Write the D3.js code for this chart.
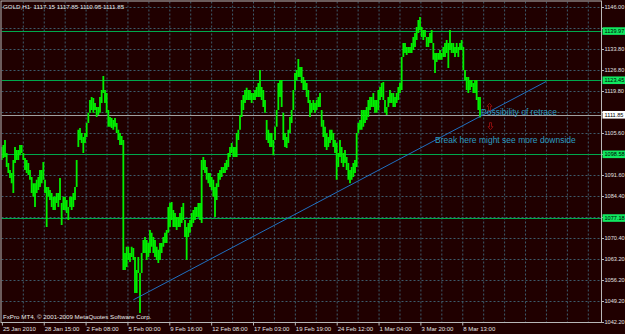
<!DOCTYPE html>
<html><head><meta charset="utf-8">
<script src="https://cdn.jsdelivr.net/npm/d3@7"></script>
<style>html,body{margin:0;padding:0;background:#200000;overflow:hidden}svg{display:block}</style>
</head><body><svg id="c" width="625" height="334"></svg>
<script>
const titleText = "GOLD,H1  1117.15 1117.85 1110.95 1111.85";
const footerText = "FxPro MT4, \u00a9 2001-2009 MetaQuotes Software Corp.";

// hourly bars, grouped into columns (high / low per column)
const highs = [
1101.0,1101.7,1103.4,1099.0,1095.7,1093.3,1092.3,1096.7,1101.0,1100.0,
1100.0,1101.7,1101.7,1099.0,1097.3,1096.7,1095.7,1093.3,1091.0,1088.9,
1088.9,1090.0,1091.0,1093.3,1093.3,1096.0,1090.0,1087.6,1087.6,1086.6,
1085.6,1084.3,1084.3,1085.6,1085.6,1090.6,1082.2,1084.3,1084.3,1083.2,
1080.9,1084.3,1084.3,1085.6,1087.6,1096.7,1106.8,1107.4,1105.7,1104.4,
1105.7,1109.1,1112.5,1116.8,1117.8,1117.5,1115.8,1114.5,1114.5,1117.8,
1120.2,1124.9,1120.2,1119.2,1113.5,1111.1,1110.8,1110.1,1110.8,1109.1,
1106.8,1105.7,1104.7,1103.4,1065.4,1067.5,1067.5,1065.4,1067.5,1067.1,
1064.1,1059.7,1064.1,1058.7,1065.4,1069.8,1070.8,1069.8,1068.8,1073.2,
1072.2,1070.8,1069.8,1067.5,1066.5,1068.8,1068.8,1070.8,1072.2,1073.2,
1080.9,1082.2,1082.6,1079.9,1078.9,1077.5,1077.5,1078.9,1080.9,1082.2,
1076.5,1074.2,1075.5,1076.5,1078.9,1079.9,1080.9,1080.9,1082.2,1082.2,
1096.7,1097.7,1096.7,1094.3,1092.3,1092.3,1091.0,1090.0,1087.6,1088.9,
1092.3,1093.3,1094.3,1094.3,1095.7,1096.7,1099.0,1101.0,1102.4,1101.0,
1101.0,1105.7,1106.8,1111.8,1116.8,1118.5,1120.2,1120.9,1120.2,1120.2,
1119.2,1119.2,1120.2,1121.2,1122.5,1126.9,1121.2,1120.2,1116.8,1110.1,
1106.8,1105.7,1105.7,1103.4,1107.8,1113.5,1122.5,1123.5,1123.5,1112.5,
1105.7,1104.4,1106.8,1111.1,1113.5,1120.2,1125.9,1126.9,1130.6,1127.9,
1127.9,1124.5,1123.5,1122.5,1120.2,1116.8,1115.8,1116.8,1115.8,1116.8,
1117.8,1119.2,1113.5,1110.1,1107.8,1105.7,1104.4,1106.8,1106.8,1105.7,
1103.4,1102.4,1099.0,1103.4,1101.0,1099.0,1100.0,1097.7,1095.7,1093.3,
1094.3,1095.7,1096.7,1105.7,1109.1,1110.1,1113.5,1113.5,1113.5,1114.5,
1116.8,1117.8,1117.8,1119.2,1116.8,1116.8,1120.2,1121.2,1122.5,1122.9,
1116.8,1114.5,1117.8,1120.2,1119.2,1119.2,1117.8,1119.2,1121.2,1122.5,
1131.3,1136.0,1136.0,1134.6,1134.6,1134.6,1136.0,1138.0,1139.3,1141.3,
1143.7,1144.7,1141.3,1140.3,1140.3,1138.0,1138.0,1139.3,1140.3,1136.0,
1132.6,1132.6,1132.6,1133.6,1132.6,1134.6,1136.0,1137.0,1136.0,1140.3,
1136.0,1136.0,1134.6,1136.0,1134.6,1136.0,1137.0,1134.6,1126.9,1124.5,
1124.5,1123.5,1123.5,1122.5,1123.5,1123.5,1117.8,1117.85];
const lows = [
1096.7,1097.3,1097.7,1094.3,1092.3,1090.6,1088.9,1085.6,1095.7,1096.7,
1096.7,1098.3,1099.0,1096.7,1093.3,1092.3,1091.6,1090.0,1085.6,1084.3,
1080.9,1085.6,1086.6,1087.6,1088.9,1090.0,1085.6,1074.2,1084.3,1083.2,
1080.9,1079.9,1079.9,1082.2,1080.9,1083.2,1074.8,1079.9,1079.9,1078.9,
1076.5,1080.9,1079.9,1080.9,1083.2,1087.6,1101.0,1103.4,1102.4,1099.0,
1102.4,1104.4,1109.1,1112.5,1113.5,1112.5,1113.5,1111.1,1111.8,1112.5,
1115.8,1119.2,1115.8,1112.5,1107.8,1107.8,1107.4,1106.8,1107.8,1105.7,
1103.4,1101.7,1101.7,1059.7,1059.7,1060.7,1063.1,1062.4,1064.1,1063.1,
1052.0,1052.0,1058.7,1045.3,1058.7,1065.4,1065.4,1063.1,1064.1,1065.4,
1067.5,1065.4,1064.1,1063.1,1062.1,1063.1,1065.4,1067.5,1068.8,1068.8,
1072.2,1074.2,1076.5,1074.2,1074.2,1073.2,1074.2,1074.2,1075.5,1076.5,
1070.8,1063.1,1070.8,1072.2,1074.2,1075.5,1076.5,1077.5,1077.5,1076.5,
1075.5,1093.3,1092.3,1090.0,1088.9,1087.6,1086.6,1084.3,1077.5,1083.2,
1087.6,1090.0,1091.0,1092.3,1092.3,1093.3,1094.3,1097.7,1099.0,1097.7,
1097.7,1097.7,1103.4,1106.8,1111.1,1113.5,1115.8,1116.8,1116.8,1116.8,
1115.8,1116.8,1116.8,1117.8,1117.8,1117.8,1116.8,1114.5,1112.5,1103.4,
1102.4,1101.0,1101.0,1098.3,1103.4,1107.8,1113.5,1117.8,1114.5,1103.4,
1101.0,1100.7,1102.4,1105.7,1109.1,1113.5,1120.2,1123.5,1124.5,1124.5,
1122.5,1120.2,1120.2,1117.8,1115.8,1111.1,1112.5,1113.5,1112.5,1113.5,
1114.5,1114.5,1107.8,1104.4,1101.0,1100.0,1101.0,1102.4,1103.4,1101.0,
1099.0,1090.0,1094.3,1097.7,1095.7,1094.3,1095.7,1093.3,1090.0,1088.9,
1090.0,1091.0,1092.3,1094.3,1105.7,1106.8,1106.8,1107.8,1109.1,1110.1,
1111.1,1113.5,1114.5,1114.5,1112.5,1112.5,1113.5,1116.8,1117.8,1116.8,
1112.5,1111.8,1114.5,1115.8,1115.8,1114.5,1114.5,1115.8,1116.8,1119.2,
1120.2,1131.3,1132.6,1131.9,1132.6,1132.6,1132.6,1133.6,1134.6,1137.0,
1139.3,1140.3,1138.0,1137.0,1138.0,1134.6,1134.6,1136.0,1136.0,1130.3,
1125.9,1129.6,1130.3,1130.3,1130.3,1131.3,1131.3,1132.6,1127.6,1133.6,
1132.6,1132.6,1131.3,1132.6,1131.3,1133.6,1133.6,1126.9,1123.5,1120.2,
1119.2,1120.2,1121.2,1119.2,1119.2,1116.8,1113.5,1110.95];

const xTickLabels = ["25 Jan 2010","28 Jan 15:00","2 Feb 08:00","5 Feb 00:00","9 Feb 16:00","12 Feb 08:00","17 Feb 03:00","19 Feb 19:00","24 Feb 12:00","1 Mar 04:00","3 Mar 20:00","8 Mar 13:00"];
const xTickStart = 1.44, xTickStep = 25.11;   // in column units
const yGridPrices = [1147.95,1140.9,1133.85,1126.85,1119.8,1112.75,1105.7,1098.7,1091.65,1084.6,1077.6,1070.55,1063.5,1056.5,1049.45,1042.4];
const yTickLabels = ["1146.00","1140.80","1133.80","1126.80","1119.80","1112.60","1105.60","1098.60","1091.60","1084.40","1077.40","1070.40","1063.20","1056.20","1049.20","1042.20"];
const levelPrices = [1139.97, 1123.45, 1098.58, 1077.18];
const bidPrice = 1111.85;
const trendCols = [80, 327.6];
const trendPrices = [1049.7, 1123.0];
const noteTexts = ["Possibility of retrace", "Break here might see more downside"];
const noteCols = [288.6, 261];
const notePrices = [1112.7, 1103.4];
const arrowCols = [293.7, 294.3];
const arrowPrices = [1115.7, 1109.2];
const arrowDirs = ["up", "down"];

const svg = d3.select("#c");
const W = 625, H = 334;
const plot = {l: 1.5, t: 1.5, r: 601.5, b: 322.5};
const font = "'Liberation Sans', Arial, sans-serif";

const x = d3.scaleLinear().domain([0, 360]).range([0, 600]);
const y = d3.scaleLinear().domain([1150.4, 1042.4]).range([0, 321.6]);

svg.append("rect").attr("width", W).attr("height", H).attr("fill", "#200000");

svg.append("defs").append("clipPath").attr("id", "pc")
  .append("rect").attr("x", plot.l).attr("y", plot.t).attr("width", plot.r - plot.l).attr("height", plot.b - plot.t);

const g = svg.append("g").attr("clip-path", "url(#pc)");

// grid
const gridCol = "#3d5b6b";
const vCount = d3.range(1, 29);
g.selectAll("line.vg").data(vCount).join("line")
  .attr("x1", j => x(xTickStart + j * xTickStep / 2)).attr("x2", j => x(xTickStart + j * xTickStep / 2))
  .attr("y1", plot.t).attr("y2", plot.b)
  .attr("stroke", gridCol).attr("stroke-width", 1).attr("stroke-dasharray", "2,2");
g.selectAll("line.hg").data(yGridPrices).join("line")
  .attr("x1", plot.l).attr("x2", plot.r)
  .attr("y1", d => Math.round(y(d)) + 0.5).attr("y2", d => Math.round(y(d)) + 0.5)
  .attr("stroke", gridCol).attr("stroke-width", 1).attr("stroke-dasharray", "2,2");

// level lines
g.selectAll("line.lv").data(levelPrices).join("line")
  .attr("x1", plot.l).attr("x2", plot.r)
  .attr("y1", d => Math.round(y(d)) + 0.5).attr("y2", d => Math.round(y(d)) + 0.5)
  .attr("stroke", "#00a84c").attr("stroke-width", 1.1);

// bid line
g.append("line").attr("x1", plot.l).attr("x2", plot.r)
  .attr("y1", Math.round(y(bidPrice)) + 0.5).attr("y2", Math.round(y(bidPrice)) + 0.5)
  .attr("stroke", "#a0a0a0").attr("stroke-width", 1);

// price bars
g.selectAll("line.bar").data(highs.map((h, i) => ({k: i + 1, h, l: lows[i]}))).join("line")
  .attr("x1", d => x(d.k)).attr("x2", d => x(d.k))
  .attr("y1", d => y(d.h)).attr("y2", d => y(d.l))
  .attr("stroke", "#00f000").attr("stroke-width", 1.8);

// trend line
g.append("line")
  .attr("x1", x(trendCols[0])).attr("y1", y(trendPrices[0]))
  .attr("x2", x(trendCols[1])).attr("y2", y(trendPrices[1]))
  .attr("stroke", "#1f6fc0").attr("stroke-width", 1);

// notes
g.selectAll("text.note").data(noteTexts).join("text")
  .attr("x", (d, i) => x(noteCols[i])).attr("y", (d, i) => y(notePrices[i]))
  .attr("dy", "0.35em")
  .attr("fill", "#2a9cc0").attr("font-family", font).attr("font-size", 8.5)
  .text(d => d);

// arrows
const arrowPath = (dir) => dir === "up"
  ? "M2.5,0 L5,3 L3.5,3 L3.5,7 L1.5,7 L1.5,3 L0,3 Z"
  : "M1.5,0 L3.5,0 L3.5,4 L5,4 L2.5,7 L0,4 L1.5,4 Z";
g.selectAll("path.arr").data(arrowDirs).join("path")
  .attr("transform", (d, i) => `translate(${x(arrowCols[i]) - 2.5},${y(arrowPrices[i])})`)
  .attr("d", d => arrowPath(d))
  .attr("fill", "none").attr("stroke", "#a01010").attr("stroke-width", 0.8);

// border
svg.append("rect").attr("x", plot.l - 0.5).attr("y", plot.t - 0.5)
  .attr("width", plot.r - plot.l + 0.5).attr("height", plot.b - plot.t + 0.5)
  .attr("fill", "none").attr("stroke", "#b8b8b8").attr("stroke-width", 1);

// right axis
const tagPrices = levelPrices.concat([bidPrice]);
const hiddenByTag = (i) => tagPrices.some(p => Math.abs(y(p) - y(yGridPrices[i])) < 7);
const ya = svg.append("g");
ya.selectAll("line").data(yGridPrices).join("line")
  .attr("x1", plot.r).attr("x2", plot.r + 2.5)
  .attr("y1", d => Math.round(y(d)) + 0.5).attr("y2", d => Math.round(y(d)) + 0.5)
  .attr("stroke", "#b8b8b8");
ya.selectAll("text").data(yTickLabels.filter((d, i) => !hiddenByTag(i))).join("text")
  .attr("x", plot.r + 3).attr("y", d => y(yGridPrices[yTickLabels.indexOf(d)])).attr("dy", "0.35em")
  .attr("fill", "#e0e0e0").attr("font-family", font).attr("font-size", 5.6)
  .text(d => d);

// price tags
const tagData = levelPrices.map(p => ({p, bg: "#10e860", fg: "#000"})).concat([{p: bidPrice, bg: "#ffffff", fg: "#000"}]);
const tg = svg.append("g");
tg.selectAll("rect").data(tagData).join("rect")
  .attr("x", plot.r + 1).attr("y", d => y(d.p) - 3.8).attr("width", W - plot.r).attr("height", 7.6)
  .attr("fill", d => d.bg);
tg.selectAll("text").data(tagData).join("text")
  .attr("x", plot.r + 3).attr("y", d => y(d.p)).attr("dy", "0.35em")
  .attr("fill", d => d.fg).attr("font-family", font).attr("font-size", 5.6)
  .text(d => d.p.toFixed(2));

// bottom axis
const xa = svg.append("g");
xa.selectAll("line").data(xTickLabels).join("line")
  .attr("x1", (d, i) => x(xTickStart + i * xTickStep)).attr("x2", (d, i) => x(xTickStart + i * xTickStep))
  .attr("y1", plot.b).attr("y2", plot.b + 3)
  .attr("stroke", "#b8b8b8");
xa.selectAll("text").data(xTickLabels).join("text")
  .attr("x", (d, i) => x(xTickStart + i * xTickStep) + 0.5).attr("y", 331)
  .attr("fill", "#e0e0e0").attr("font-family", font).attr("font-size", 6)
  .text(d => d);

// title & footer
svg.append("text").attr("x", 3).attr("y", 9.3).attr("fill", "#e8e8e8")
  .attr("font-family", font).attr("font-size", 6.2).attr("xml:space", "preserve").text(titleText);
svg.append("text").attr("x", 3).attr("y", 319).attr("fill", "#e8e8e8")
  .attr("font-family", font).attr("font-size", 6.2).text(footerText);
</script></body></html>
